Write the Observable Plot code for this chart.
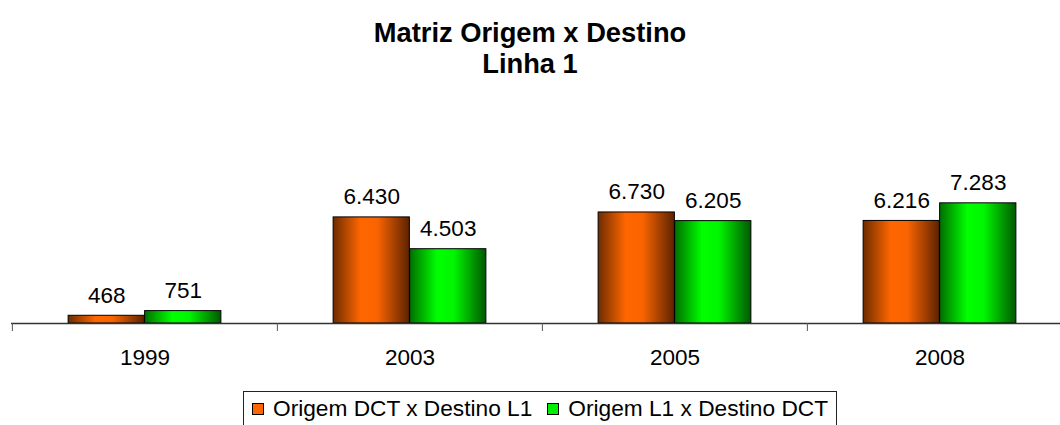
<!DOCTYPE html>
<html><head><meta charset="utf-8">
<script src="https://cdn.jsdelivr.net/npm/d3@7"></script>
<script src="https://cdn.jsdelivr.net/npm/@observablehq/plot@0.6"></script>
<style>
html,body{margin:0;padding:0;background:#fff;}
body{width:1060px;height:425px;overflow:hidden;font-family:"Liberation Sans",Arial,sans-serif;color:#000;}
.title{padding-top:17px;text-align:center;font-weight:bold;font-size:27.3px;line-height:31px;}
#chart svg{display:block;}
#legend{position:absolute;left:243px;top:391px;width:594px;height:40px;border:1px solid #222;box-sizing:border-box;display:flex;align-items:flex-start;padding:3px 0 0 8px;font-size:22.7px;line-height:26px;white-space:nowrap;}
.item{display:flex;align-items:center;}
.sw{width:10px;height:10px;border:1px solid #000;margin-right:9px;margin-top:2px;}
</style></head><body>
<div class="title"><div>Matriz Origem x Destino</div><div>Linha 1</div></div>
<div id="chart"></div>
<div id="legend"></div>
<script>
const years = ["1999", "2003", "2005", "2008"];
const seriesNames = ["Origem DCT x Destino L1", "Origem L1 x Destino DCT"];
const origemDCT_destL1 = [468, 6430, 6730, 6216];
const origemL1_destDCT = [751, 4503, 6205, 7283];
const seriesColors = ["#ff6600", "#00ee00"];

const fmt = d3.formatLocale({decimal: ",", thousands: ".", grouping: [3], currency: ["", ""]}).format(",");

const rows = [];
years.forEach((y, i) => {
  rows.push({year: y, series: 0, value: origemDCT_destL1[i]});
  rows.push({year: y, series: 1, value: origemL1_destDCT[i]});
});

const W = 1060, H = 300, axisY = 244;
const x0 = 11, x1 = 1072;
const step = (x1 - x0) / years.length;
const barW = 76.5;
const font = '"Liberation Sans", Arial, sans-serif';

const plot = Plot.plot({
  width: W, height: H,
  marginLeft: x0, marginRight: 0, marginTop: 20, marginBottom: H - axisY,
  x: {domain: years, range: [x0, x1], padding: 0},
  y: {domain: [0, 8000], range: [axisY, axisY - 132], axis: null},
  style: {fontFamily: font, fontSize: "22.5px", color: "#000", background: "#fff", overflow: "hidden"},
  marks: [
    Plot.barY(rows.filter(d => d.series === 0), {
      x: "year", y: "value", fill: "url(#gOrange)", stroke: "#000", strokeWidth: 1,
      insetLeft: step / 2 - barW, insetRight: step / 2
    }),
    Plot.barY(rows.filter(d => d.series === 1), {
      x: "year", y: "value", fill: "url(#gGreen)", stroke: "#000", strokeWidth: 1,
      insetLeft: step / 2, insetRight: step / 2 - barW
    }),
    Plot.ruleY([0], {stroke: "#333", strokeWidth: 1.3}),
    Plot.ruleX(years, {x: d => d, dx: -step / 2, y1: 0, insetBottom: -8, stroke: "#555"}),
    Plot.text(rows.filter(d => d.series === 0), {
      x: "year", y: "value", text: d => fmt(d.value),
      dx: -barW / 2, dy: -13, lineAnchor: "bottom", fontSize: 22.5, fill: "#000"
    }),
    Plot.text(rows.filter(d => d.series === 1), {
      x: "year", y: "value", text: d => fmt(d.value),
      dx: barW / 2, dy: -13, lineAnchor: "bottom", fontSize: 22.5, fill: "#000"
    }),
    Plot.axisX({tickSize: 0, tickPadding: 26, fontSize: 22.5, label: null, color: "#000"})
  ]
});

const svg = d3.select(plot);
const defs = svg.insert("defs", ":first-child");
function grad(id, stops) {
  const g = defs.append("linearGradient").attr("id", id).attr("x1", "0").attr("x2", "1").attr("y1", "0").attr("y2", "0");
  stops.forEach(([o, c]) => g.append("stop").attr("offset", o).attr("stop-color", c));
}
grad("gOrange", [[0, "#6e2c00"], [0.36, "#ff6600"], [0.58, "#fa6400"], [1, "#5c2200"]]);
grad("gGreen", [[0, "#006e00"], [0.36, "#00ff00"], [0.58, "#00f600"], [1, "#005800"]]);
document.getElementById("chart").appendChild(plot);

const legend = d3.select("#legend");
seriesNames.forEach((name, i) => {
  const it = legend.append("div").attr("class", "item").style("margin-right", i === 0 ? "15px" : "0");
  it.append("div").attr("class", "sw").style("background", seriesColors[i]);
  it.append("span").text(name);
});
</script>
</body></html>
